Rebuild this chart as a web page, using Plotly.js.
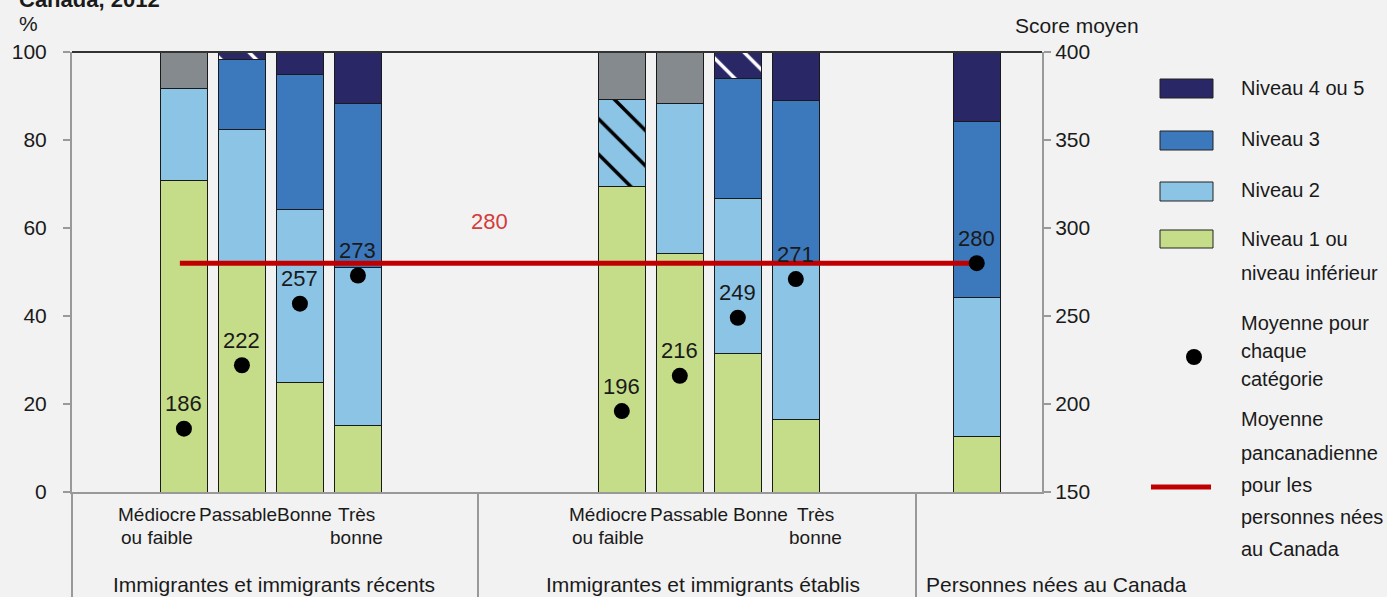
<!DOCTYPE html>
<html><head><meta charset="utf-8">
<script src="https://cdn.plot.ly/plotly-3.0.1.min.js"></script>
<style>html,body{margin:0;padding:0;background:#f2f2f2;overflow:hidden}</style>
</head><body><div id="chart" style="width:1387px;height:597px"></div>
<script>
// ---- Data ----
const groupNames = ['Immigrantes et immigrants récents', 'Immigrantes et immigrants établis', 'Personnes nées au Canada'];
const barLabels = ['Médiocre<br>ou faible', 'Passable', 'Bonne', 'Très<br>bonne',
                   'Médiocre<br>ou faible', 'Passable', 'Bonne', 'Très<br>bonne', ''];
const barGroup = [0, 0, 0, 0, 1, 1, 1, 1, 2];
const level1 = [70.7, 51.8, 24.8, 15.2, 69.5, 54.1, 31.4, 16.4, 12.7];
const level2 = [20.9, 30.7, 39.5, 35.9, 19.8, 34.1, 35.4, 35.2, 31.4];
const level3 = [null, 15.9, 30.5, 37.1, null, null, 27.1, 37.3, 40.2];
const level45 = [null, 1.6, 5.2, 11.8, null, null, 6.1, 11.1, 15.7];
const suppressed = [8.4, null, null, null, 10.7, 11.8, null, null, null];
const level2Caution = [false, false, false, false, true, false, false, false, false];
const level45Caution = [false, true, false, false, false, false, true, false, false];
const meanScores = [186, 222, 257, 273, 196, 216, 249, 271, 280];
const canadaBornMean = 280;
const seriesNames = ['Niveau 4 ou 5', 'Niveau 3', 'Niveau 2', 'Niveau 1 ou<br>niveau inférieur'];
const dotName = 'Moyenne pour<br>chaque<br>catégorie';
const lineName = 'Moyenne<br>pancanadienne<br>pour les<br>personnes nées<br>au Canada';

// ---- Style / layout constants ----
const FONT = '"Liberation Sans", Arial, sans-serif';
const TXT = '#1a1a1a';
const C = {l1: '#c5dd88', l2: '#8cc4e6', l3: '#3c78bc', l45: '#292766', sup: '#858a8e', red: '#c00000'};
const groupStart = [-0.05, 7.5, 13.62];
const idxInGroup = [];
{ const cnt = [0, 0, 0]; barGroup.forEach(g => { idxInGroup.push(cnt[g]++); }); }
const xPos = barGroup.map((g, i) => groupStart[g] + idxInGroup[i]);
const labelShift = [-27, -4, 5, -1, -14, 9, 23, 20, 0];   // px nudges of category labels
const BW = 0.81;
const barLine = {color: '#1a1a1a', width: 1};

function barTrace(vals, color, name, pattern) {
  const t = {type: 'bar', x: xPos, y: vals, width: BW, name: name, showlegend: false,
    marker: {color: color, line: barLine}, hoverinfo: 'y'};
  if (pattern) t.marker.pattern = pattern;
  return t;
}
const traces = [
  barTrace(level1, C.l1, seriesNames[3]),
  barTrace(level2, C.l2, seriesNames[2], {shape: level2Caution.map(c => c ? '\\' : ''), fgcolor: '#000', bgcolor: C.l2,
    size: 25, solidity: 0.14}),
  barTrace(level3, C.l3, seriesNames[1]),
  barTrace(level45, C.l45, seriesNames[0], {shape: level45Caution.map(c => c ? '\\' : ''), fgcolor: '#fff', bgcolor: C.l45,
    size: 25, solidity: 0.14}),
  barTrace(suppressed, C.sup, 'F'),
  {type: 'scatter', mode: 'lines', x: [xPos[0] - 0.07, xPos[xPos.length - 1]], y: [canadaBornMean, canadaBornMean],
   yaxis: 'y2', line: {color: C.red, width: 5}, showlegend: false, hoverinfo: 'y'},
  {type: 'scatter', mode: 'markers', x: xPos, y: meanScores, yaxis: 'y2',
   marker: {color: '#000', size: 16}, showlegend: false, hoverinfo: 'y'}
];

// ---- Annotations / shapes ----
const px = v => (v - 72) / 970;   // paper helpers (plot area 72..1042 x 52..492 px)
const py = v => (492 - v) / 440;
const annotations = [];
function txt(x, y, text, opts) {
  annotations.push(Object.assign({x: x, y: y, xref: 'paper', yref: 'paper', text: text, showarrow: false,
    xanchor: 'center', yanchor: 'middle', font: {family: FONT, size: 21, color: TXT}}, opts || {}));
}
meanScores.forEach((s, i) => txt(xPos[i], s, String(s), {xref: 'x', yref: 'y2', yshift: 25,
  font: {family: FONT, size: 22, color: TXT}}));
txt(5.21, canadaBornMean, String(canadaBornMean), {xref: 'x', yref: 'y2', yshift: 42,
  font: {family: FONT, size: 22, color: '#d23c3c'}});
// category labels (one annotation per line)
const catLineY = [514, 537];
barLabels.forEach((lab, i) => {
  if (!lab) return;
  lab.split('<br>').forEach((line, j) => txt(xPos[i], py(catLineY[j]), line,
    {xref: 'x', xshift: labelShift[i], font: {family: FONT, size: 19, color: TXT}}));
});
const groupCenters = [px(273.5), px(702.5), px(1056)];
groupNames.forEach((g, i) => txt(groupCenters[i], py(584), g));
txt(px(28), py(24), '%');
txt(px(1013), py(25), 'Score moyen', {xanchor: 'left'});
txt(px(17), py(-1), '<b>Canada, 2012</b>', {xanchor: 'left', font: {family: FONT, size: 22, color: TXT}});

// legend
const legColors = [C.l45, C.l3, C.l2, C.l1];
const boxY = [[79, 98], [131, 150], [182, 201], [230, 248]];
const legLineY = [[88], [139], [190], [239, 273]];
const shapes = [];
function legText(name, ys) {
  name.split('<br>').forEach((line, j) => txt(px(1239), py(ys[j]), line,
    {xanchor: 'left', font: {family: FONT, size: 20, color: TXT}}));
}
legColors.forEach((c, i) => {
  shapes.push({type: 'rect', xref: 'paper', yref: 'paper', x0: px(1160), x1: px(1213), y0: py(boxY[i][1]), y1: py(boxY[i][0]),
    fillcolor: c, line: {color: '#222', width: 1}});
  legText(seriesNames[i], legLineY[i]);
});
shapes.push({type: 'circle', xref: 'paper', yref: 'paper', x0: px(1186), x1: px(1202), y0: py(365), y1: py(349),
  fillcolor: '#000', line: {color: '#000', width: 0}});
legText(dotName, [323, 351, 379]);
shapes.push({type: 'line', xref: 'paper', yref: 'paper', x0: px(1151), x1: px(1211), y0: py(487), y1: py(487),
  line: {color: C.red, width: 5}});
legText(lineName, [419, 453, 485, 517, 549]);

// frame lines
shapes.push({type: 'line', xref: 'paper', yref: 'paper', x0: 0, x1: 1, y0: 1, y1: 1, line: {color: '#333', width: 2}});
[0, px(478), px(916)].forEach(x => shapes.push({type: 'line', xref: 'paper', yref: 'paper', x0: x, x1: x, y0: 0, y1: py(600),
  line: {color: '#999', width: 2}}));

const layout = {
  width: 1387, height: 597,
  margin: {l: 72, r: 345, t: 52, b: 105},
  paper_bgcolor: '#f2f2f2', plot_bgcolor: '#f2f2f2',
  barmode: 'stack', showlegend: false,
  font: {family: FONT, size: 21, color: TXT},
  xaxis: {range: [-1.98, 14.745], showticklabels: false, ticks: '',
    showline: true, linecolor: '#999', linewidth: 2, showgrid: false, zeroline: false},
  yaxis: {range: [0, 100], tickvals: [0, 20, 40, 60, 80, 100], ticks: 'outside', ticklen: 7, tickwidth: 2, tickcolor: '#999',
    showline: true, linecolor: '#999', linewidth: 2, showgrid: false, zeroline: false, ticklabelstandoff: 12,
    tickfont: {family: FONT, size: 21, color: TXT}},
  yaxis2: {range: [150, 400], tickvals: [150, 200, 250, 300, 350, 400], overlaying: 'y', side: 'right',
    ticks: 'outside', ticklen: 7, tickwidth: 2, tickcolor: '#999',
    showline: true, linecolor: '#999', linewidth: 2, showgrid: false, zeroline: false,
    tickfont: {family: FONT, size: 21, color: TXT}},
  annotations: annotations, shapes: shapes
};
Plotly.newPlot('chart', traces, layout, {displayModeBar: false, staticPlot: true});
</script></body></html>
